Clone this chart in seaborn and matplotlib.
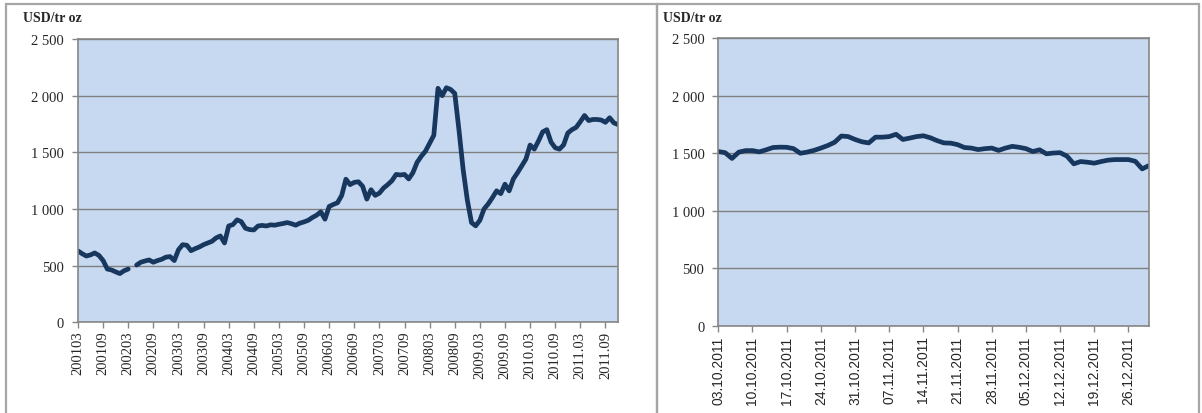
import matplotlib

matplotlib.use("Agg")

import matplotlib.pyplot as plt
import numpy as np
import pandas as pd
import seaborn as sns
from matplotlib.patches import Rectangle
from matplotlib.ticker import FuncFormatter

# monthly prices, 2001-03 .. 2011-12 (one missing month in 2002)
monthly_price = [
    630, 605, 585, 595, 612, 590, 545, 470, 462, 445,
    430, 455, 470, np.nan, 505, 530, 541, 550, 530, 545,
    556, 575, 580, 545, 640, 685, 680, 632, 650, 665,
    685, 700, 715, 745, 762, 700, 850, 862, 904, 888,
    830, 818, 815, 850, 855, 850, 860, 857, 865, 872,
    880, 870, 857, 875, 886, 900, 925, 945, 975, 910,
    1022, 1040, 1055, 1120, 1263, 1215, 1235, 1240, 1200, 1087,
    1170, 1120, 1140, 1185, 1215, 1250, 1305, 1300, 1305, 1265,
    1320, 1411, 1465, 1510, 1580, 1650, 2065, 2000, 2070, 2055,
    2020, 1700, 1350, 1080, 880, 851, 900, 1000, 1045, 1100,
    1160, 1135, 1219, 1160, 1265, 1320, 1380, 1440, 1564, 1528,
    1600, 1680, 1700, 1590, 1540, 1528, 1565, 1670, 1700, 1720,
    1770, 1825, 1780, 1790, 1790, 1785, 1765, 1805, 1760, 1745,
]
monthly_ticks = [
    "200103", "200109", "200203", "200209", "200303", "200309",
    "200403", "200409", "200503", "200509", "200603", "200609",
    "200703", "200709", "200803", "200809", "2009.03", "2009.09",
    "2010.03", "2010.09", "2011.03", "2011.09",
]

# daily prices, 03.10.2011 .. end of December 2011
daily_price = [
    1515, 1505, 1455, 1510, 1523, 1523, 1512, 1530, 1550, 1553,
    1552, 1540, 1500, 1510, 1525, 1545, 1567, 1595, 1650, 1645,
    1620, 1600, 1590, 1640, 1640, 1645, 1665, 1620, 1632, 1645,
    1652, 1635, 1610, 1590, 1588, 1575, 1550, 1545, 1532, 1540,
    1545, 1525, 1545, 1560, 1552, 1540, 1515, 1530, 1495, 1502,
    1505, 1475, 1408, 1428, 1422, 1414, 1428, 1440, 1445, 1445,
    1445, 1430, 1364, 1393,
]
daily_ticks = [
    "03.10.2011", "10.10.2011", "17.10.2011", "24.10.2011", "31.10.2011",
    "07.11.2011", "14.11.2011", "21.11.2011", "28.11.2011", "05.12.2011",
    "12.12.2011", "19.12.2011", "26.12.2011",
]
y_ticks = [0, 500, 1000, 1500, 2000, 2500]

W, H = 1202, 414
LINE = "#17375E"
FRAME = "#a6a6a6"

sns.set_style("white", {
    "axes.facecolor": "#C6D9F1",
    "axes.edgecolor": "#868686",
    "grid.color": "#7f7f7f",
})
plt.rcParams["font.family"] = ["Liberation Serif", "DejaVu Serif"]


def _space_thousands(v, _pos):
    return f"{int(v):,}".replace(",", " ")


def _frame(ax, tick_step, tick_labels, n, label_font, label_size, pad):
    ax.set_xlim(0, n - 1)
    ax.set_ylim(0, 2500)
    ax.set_yticks(y_ticks)
    ax.yaxis.set_major_formatter(FuncFormatter(_space_thousands))
    ax.set_xticks(np.arange(0, len(tick_labels) * tick_step, tick_step))
    ax.set_xticklabels(tick_labels, rotation=90, family=label_font,
                       fontsize=label_size)
    ax.grid(axis="y", color="#7f7f7f", lw=1)
    ax.grid(axis="x", visible=False)
    ax.set_axisbelow(True)
    for sp in ax.spines.values():
        sp.set_visible(True)
        sp.set_color("#868686")
        sp.set_linewidth(1.2)
    ax.tick_params(axis="y", which="major", left=True, length=4, width=1,
                   color="#868686", labelsize=10.5, pad=6)
    ax.tick_params(axis="x", which="major", bottom=True, length=4, width=1,
                   color="#868686", pad=pad)
    ax.set_xlabel("")
    ax.set_ylabel("")


fig = plt.figure(figsize=(W / 100, H / 100), dpi=100)

# panel frames
fig.add_artist(Rectangle((6 / W, -0.02), (657 - 6) / W, 1.02 - 5 / H,
                         transform=fig.transFigure, fill=False,
                         edgecolor=FRAME, lw=1.6))
fig.add_artist(Rectangle((657 / W, -0.02), (1199 - 657) / W, 1.02 - 5 / H,
                         transform=fig.transFigure, fill=False,
                         edgecolor=FRAME, lw=1.6))

# long history
left = fig.add_axes([78 / W, 1 - 323.3 / H, 540 / W, 283.3 / H])
monthly = pd.DataFrame({"t": np.arange(len(monthly_price)),
                        "price": monthly_price})
monthly["seg"] = monthly["price"].isna().cumsum()
sns.lineplot(data=monthly.dropna(), x="t", y="price", units="seg",
             estimator=None, color=LINE, lw=3.4, ax=left)
_frame(left, 6, monthly_ticks, len(monthly_price), "Liberation Serif", 10.5, 2)
fig.text(23 / W, 1 - 18 / H, "USD/tr oz", fontsize=10, fontweight="bold",
         va="center", ha="left")

# last quarter of 2011
right = fig.add_axes([718.3 / W, 1 - 326.7 / H, 430.7 / W, 287.4 / H])
daily = pd.DataFrame({"t": np.arange(len(daily_price)), "price": daily_price})
sns.lineplot(data=daily, x="t", y="price", color=LINE, lw=3.4, ax=right)
_frame(right, 5, daily_ticks, len(daily_price), "Liberation Sans", 10, 3)
fig.text(663 / W, 1 - 18 / H, "USD/tr oz", fontsize=10, fontweight="bold",
         va="center", ha="left")

fig.savefig("out.png", dpi=100)
plt.close(fig)
